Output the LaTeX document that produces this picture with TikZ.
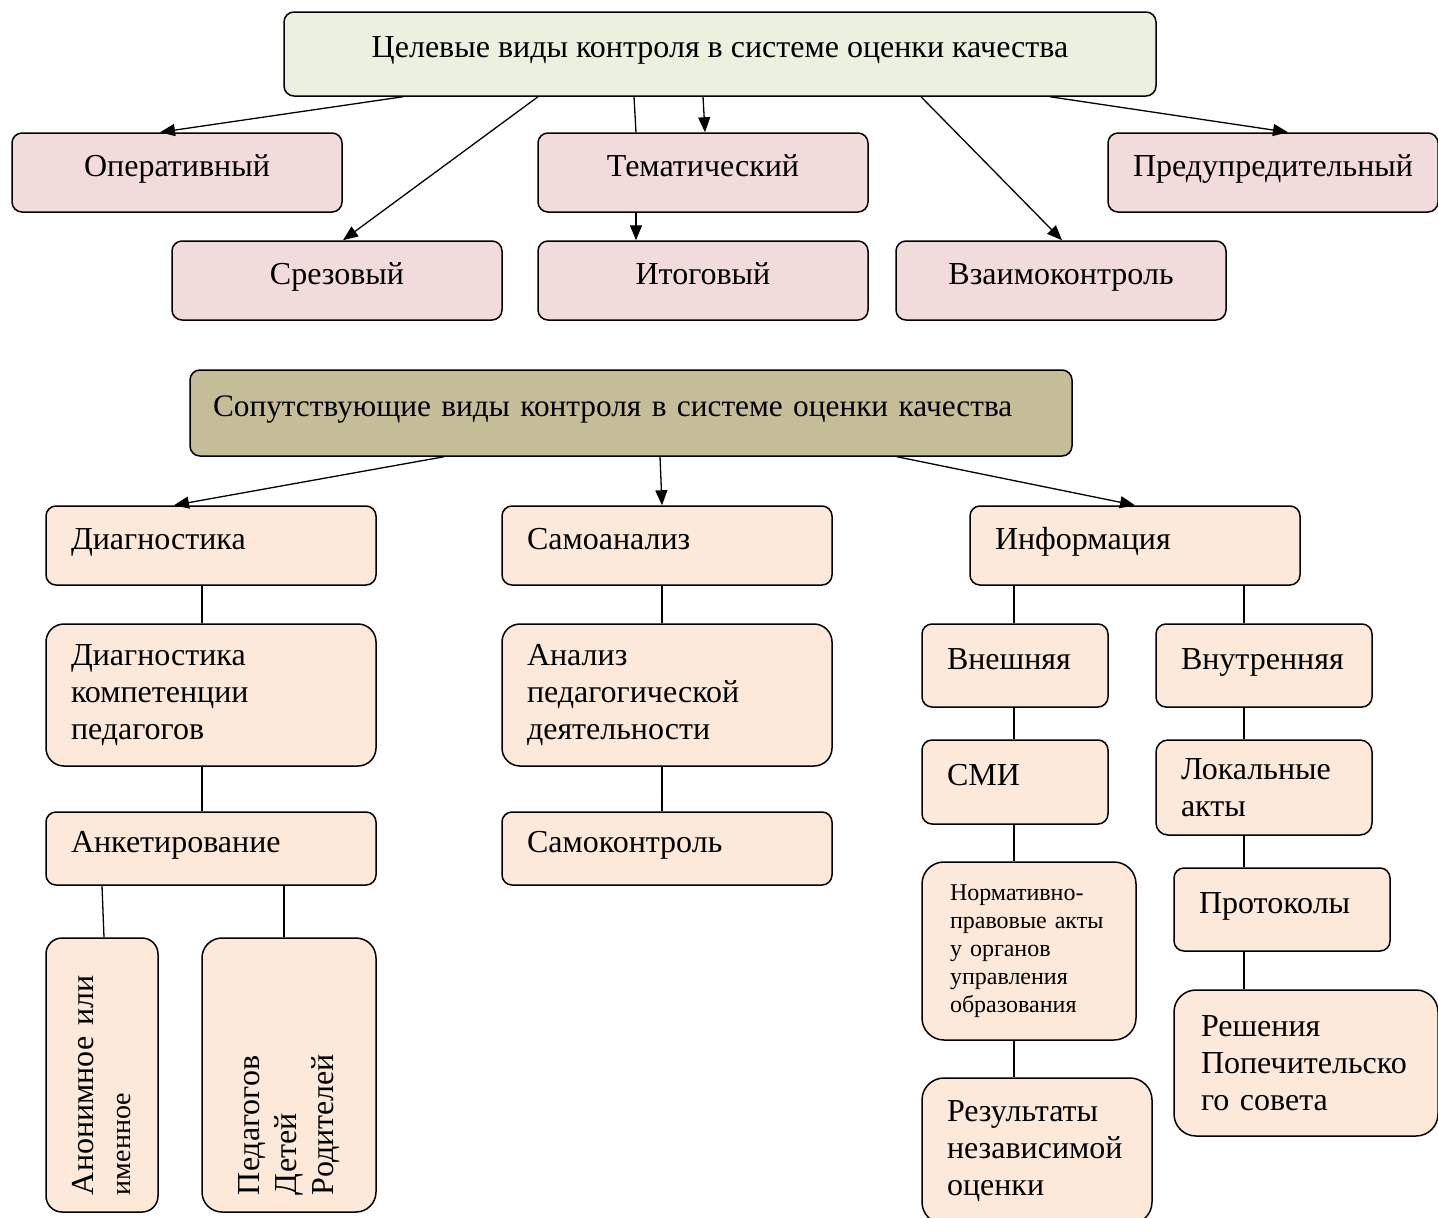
\documentclass[tikz,border=0pt]{standalone}
\usepackage{fontspec}
\setmainfont{Liberation Serif}
\usetikzlibrary{arrows.meta}
\definecolor{greenfill}{HTML}{EBF1DE}
\definecolor{pinkfill}{HTML}{F2DCDB}
\definecolor{olivefill}{HTML}{C4BD97}
\definecolor{peachfill}{HTML}{FDE9D9}
\begin{document}
\begin{tikzpicture}
            [x = 1pt, y = -1pt,
             box/.style = {draw, rounded corners = 10pt, line width = 1.5pt, font = \fontsize{32}{37}\selectfont},
             lift/.style = {text height = 21pt, text depth = 14pt},
             aim/.style = {box, fill = pinkfill, minimum width = 330pt, minimum height = 79pt, align = center, lift},
             kind/.style = {box, fill = peachfill, align = left, inner xsep = 25pt},
             link/.style = {line width = 1.3pt},
             arrow/.style = {link, -{Triangle[length = 15pt, width = 12pt]}}]
            \useasboundingbox (0,0) rectangle (1438,1218);
            \node[box, fill = greenfill, minimum width = 872pt, minimum height = 84pt, lift] (goal) at (720,54) {Целевые виды контроля в системе оценки качества};
            \node[aim] (oper) at (177,172.5) {Оперативный};
            \node[aim] (tem) at (703,172.5) {Тематический};
            \node[aim] (pred) at (1273,172.5) {Предупредительный};
            \node[aim] (srez) at (337,280.5) {Срезовый};
            \node[aim] (itog) at (703,280.5) {Итоговый};
            \node[aim] (vzaim) at (1061,280.5) {Взаимоконтроль};
            \draw[arrow] ([xshift = -317pt]goal.south) -- ([xshift = -17pt]oper.north);
            \draw[arrow] ([xshift = -182pt]goal.south) -- ([xshift = 6pt]srez.north);
            \draw[link] ([xshift = -86pt]goal.south) -- ([xshift = -67pt]tem.north);
            \draw[arrow] ([xshift = -17pt]goal.south) -- ([xshift = 2pt]tem.north);
            \draw[arrow] ([xshift = -67pt]tem.south) -- ([xshift = -67pt]itog.north);
            \draw[arrow] ([xshift = 201pt]goal.south) -- ([xshift = 1pt]vzaim.north);
            \draw[arrow] ([xshift = 330pt]goal.south) -- ([xshift = 15pt]pred.north);

            \node[box, fill = olivefill, minimum height = 86pt, inner xsep = 23pt, text width = 836pt, align = left, lift, font = \fontsize{31.3}{37}\selectfont] (accomp) at (631,413) {Сопутствующие виды контроля в системе оценки качества};
            \node[kind, text width = 280pt, minimum height = 79pt, lift] (diag) at (211,545.5) {Диагностика};
            \node[kind, text width = 280pt, minimum height = 79pt, lift] (sam) at (667,545.5) {Самоанализ};
            \node[kind, text width = 280pt, minimum height = 79pt, lift] (info) at (1135,545.5) {Информация};
            \draw[arrow] ([xshift = -187pt]accomp.south) -- ([xshift = -37pt]diag.north);
            \draw[arrow] ([xshift = 29pt]accomp.south) -- ([xshift = -5pt]sam.north);
            \draw[arrow] ([xshift = 266pt]accomp.south) -- (info.north);

            \node[kind, text width = 280pt, minimum height = 142pt, rounded corners = 18pt] (komp) at (211,695) {Диагностика\\компетенции\\педагогов};
            \node[kind, text width = 280pt, minimum height = 73pt, lift] (anket) at (211,848.5) {Анкетирование};
            \node[kind, rotate = 90, inner xsep = 17pt, text width = 240pt, minimum height = 112pt, rounded corners = 16pt] (anon) at (102,1075) {Анонимное или\\{\fontsize{28}{32}\selectfont именное}};
            \node[kind, rotate = 90, inner xsep = 17pt, text width = 240pt, minimum height = 174pt, rounded corners = 20pt] (roles) at (289,1075) {Педагогов\\Детей\\Родителей};
            \draw[link] ([xshift = -9pt]diag.south) -- ([xshift = -9pt]komp.north);
            \draw[link] ([xshift = -9pt]komp.south) -- ([xshift = -9pt]anket.north);
            \draw[link] ([xshift = -109pt]anket.south) -- ([xshift = 2pt]anon.east);
            \draw[link] ([xshift = 73pt]anket.south) -- ([xshift = -5pt]roles.east);

            \node[kind, text width = 280pt, minimum height = 142pt, rounded corners = 18pt] (analiz) at (667,695) {Анализ\\педагогической\\деятельности};
            \node[kind, text width = 280pt, minimum height = 73pt, lift] (samk) at (667,848.5) {Самоконтроль};
            \draw[link] ([xshift = -5pt]sam.south) -- ([xshift = -5pt]analiz.north);
            \draw[link] ([xshift = -5pt]analiz.south) -- ([xshift = -5pt]samk.north);

            \node[kind, text width = 136pt, minimum height = 83pt, lift] (vnesh) at (1015,665.5) {Внешняя};
            \node[kind, text width = 166pt, minimum height = 83pt, lift] (vnutr) at (1264,665.5) {Внутренняя};
            \node[kind, text width = 136pt, minimum height = 84pt, lift] (smi) at (1015,782) {СМИ};
            \node[kind, inner xsep = 28pt, text width = 158pt, minimum height = 178pt, rounded corners = 22pt, font = \fontsize{24}{28}\selectfont] (norm) at (1029,951) {Нормативно-\\правовые акты\\у органов\\управления\\образования};
            \node[kind, text width = 180pt, minimum height = 146pt, rounded corners = 22pt] (rezult) at (1037,1151) {Результаты\\независимой\\оценки};
            \node[kind, text width = 166pt, minimum height = 95pt, rounded corners = 12pt] (lokal) at (1264,787.5) {Локальные\\акты};
            \node[kind, text width = 166pt, minimum height = 83pt, lift] (prot) at (1282,909.5) {Протоколы};
            \node[kind, inner xsep = 27pt, text width = 210pt, minimum height = 146pt, rounded corners = 22pt] (resh) at (1306,1063) {Решения\\Попечительско\\го совета};
            \draw[link] ([xshift = -121pt]info.south) -- ([xshift = -1pt]vnesh.north);
            \draw[link] ([xshift = 109pt]info.south) -- ([xshift = -20pt]vnutr.north);
            \draw[link] ([xshift = -1pt]vnesh.south) -- ([xshift = -1pt]smi.north);
            \draw[link] ([xshift = -1pt]smi.south) -- ([xshift = -15pt]norm.north);
            \draw[link] ([xshift = -15pt]norm.south) -- ([xshift = -23pt]rezult.north);
            \draw[link] ([xshift = -20pt]vnutr.south) -- ([xshift = -20pt]lokal.north);
            \draw[link] ([xshift = -20pt]lokal.south) -- ([xshift = -38pt]prot.north);
            \draw[link] ([xshift = -38pt]prot.south) -- ([xshift = -62pt]resh.north);
        \end{tikzpicture}
\end{document}
